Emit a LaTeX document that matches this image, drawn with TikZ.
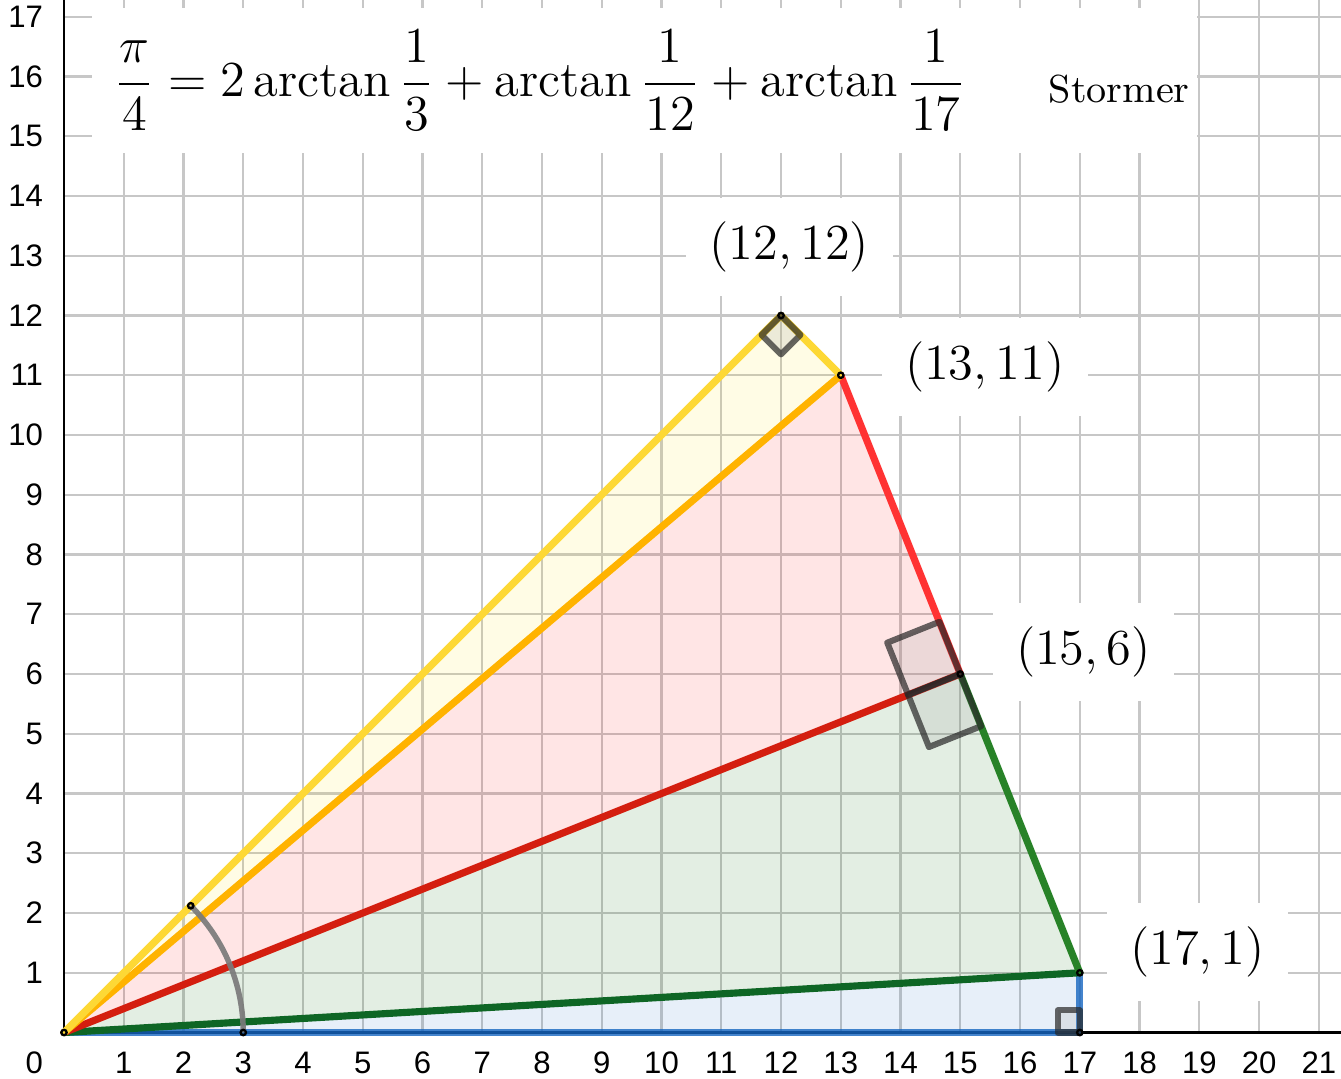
\documentclass[tikz,border=0pt]{standalone}
\usepackage{fontspec}
\usepackage{amsmath}
\usetikzlibrary{positioning}
\newfontfamily\ticksf{Liberation Sans}
\definecolor{ggblue}{RGB}{21,101,192}
\definecolor{ggdkgreen}{RGB}{14,102,37}
\definecolor{gggreen}{RGB}{40,130,40}
\definecolor{ggdkred}{RGB}{212,30,15}
\definecolor{ggred}{RGB}{255,51,51}
\definecolor{ggorange}{RGB}{255,179,0}
\definecolor{ggyellow}{RGB}{253,216,53}

\begin{document}
\begin{tikzpicture}[
        x=0.5cm, y=0.5cm,
        gridline/.style={draw=black!22, line width=0.55pt},
        axisline/.style={draw=black, line width=0.55pt},
        tick/.style={font=\ticksf\fontsize{7.4}{8.5}\selectfont, inner sep=0pt},
        side/.style={line width=1.7pt, line cap=round, line join=round},
        rangle/.style={draw=black!85, draw opacity=0.7, fill=black!40, fill opacity=0.18, line width=1.45pt, line join=round},
        arcline/.style={draw=black!52, line width=1.3pt, opacity=0.92},
        dot/.style={draw=black, line width=0.55pt},
        ptlabel/.style={fill=white, inner sep=5.6pt, font=\large}
    ]
        \useasboundingbox (-1.0711,-0.7615) rectangle (21.372,17.280);

        % grid and axes
        \foreach \x in {1,...,21} \draw[gridline] (\x,0) -- (\x,17.28);
        \foreach \y in {1,...,17} \draw[gridline] (0,\y) -- (21.372,\y);
        \draw[axisline] (0,0) -- (21.372,0);
        \draw[axisline] (0,0) -- (0,17.28);
        \foreach \x in {1,...,21} \node[tick] at (\x,-0.51) {\x};
        \foreach \y in {1,...,17} \node[tick, anchor=east] at (-0.34,\y) {\y};
        \node[tick, anchor=east] at (-0.34,-0.51) {0};

        \coordinate (O) at (0,0);
        \coordinate (A) at (17,0);
        \coordinate (B) at (17,1);
        \coordinate (C) at (15,6);
        \coordinate (D) at (13,11);
        \coordinate (E) at (12,12);
        \coordinate (P) at (3,0);
        \coordinate (Q) at (45:3);

        % triangles
        \fill[ggblue, fill opacity=0.1] (O) -- (A) -- (B) -- cycle;
        \fill[green!40!black, fill opacity=0.11] (O) -- (B) -- (C) -- cycle;
        \fill[red, fill opacity=0.1] (O) -- (C) -- (D) -- cycle;
        \fill[yellow!85!orange, fill opacity=0.1] (O) -- (D) -- (E) -- cycle;

        \draw[side, ggblue, draw opacity=0.8] (O) -- (A);
        \draw[side, ggblue, draw opacity=0.8] (A) -- (B);
        \draw[side, ggdkgreen] (O) -- (B);
        \draw[side, gggreen] (B) -- (C);
        \draw[side, ggdkred] (O) -- (C);
        \draw[side, ggred] (C) -- (D);
        \draw[side, ggorange] (O) -- (D);
        \draw[side, ggyellow] (O) -- (E);
        \draw[side, ggyellow] (E) -- (D);

        % right angles
        \draw[rangle] (A) -- ++(-0.37,0) -- ++(0,0.37) -- ++(0.37,0) -- cycle;
        \draw[rangle] (E) -- ++(0.325,-0.325) -- ++(-0.325,-0.325) -- ++(-0.325,0.325) -- cycle;
        \draw[rangle] (C) -- ++(-0.349,0.873) -- ++(-0.873,-0.349) -- ++(0.349,-0.873) -- cycle;
        \draw[rangle] (C) -- ++(-0.873,-0.349) -- ++(0.349,-0.873) -- ++(0.873,0.349) -- cycle;

        \draw[arcline] (P) arc[start angle=0, end angle=45, radius=3];

        \foreach \p in {O,A,B,C,D,E,P,Q} \draw[dot] (\p) circle[radius=0.045];

        % labels
        \fill[white] (0.47,14.72) rectangle (18.96,17.145);
        \node[anchor=base west, inner sep=0pt, font=\large] (formula) at (0.83,15.67)
            {$\displaystyle \frac{\pi}{4} = 2\arctan\frac{1}{3} + \arctan\frac{1}{12} + \arctan\frac{1}{17}$};
        \node[anchor=base west, inner sep=0pt, font=\fontsize{9.3}{11}\selectfont] (stormer) at (16.47,15.56) {Stormer};

        \node[ptlabel] (lblE) at (12.14,13.15) {$(12,12)$};
        \node[ptlabel] (lblD) at (15.41,11.14) {$(13,11)$};
        \node[ptlabel] (lblC) at (17.06,6.37) {$(15,6)$};
        \node[ptlabel] (lblB) at (18.97,1.35) {$(17,1)$};
    \end{tikzpicture}
\end{document}
